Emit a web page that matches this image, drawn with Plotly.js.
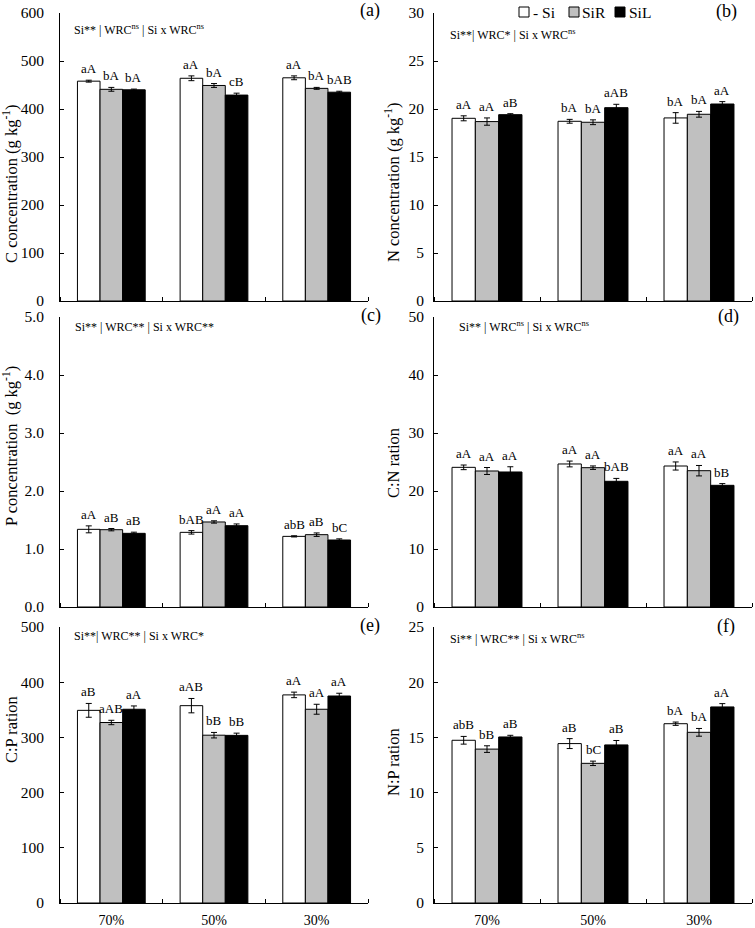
<!DOCTYPE html>
<html>
<head>
<meta charset="utf-8">
<script src="https://cdn.plot.ly/plotly-3.0.1.min.js"></script>
<style>
  html, body { margin: 0; padding: 0; background: #fff; }
  #chart { width: 755px; height: 928px; }
</style>
</head>
<body>
<div id="chart"></div>
<script>
var W = 755, H = 928;

var categories = ['70%', '50%', '30%'];
var seriesNames = ['- Si', 'SiR', 'SiL'];
var seriesColors = ['#ffffff', '#c0c0c0', '#000000'];

// each array: [-Si, SiR, SiL], each inner list over 70%, 50%, 30%
var cConc = [[458, 464, 465], [441, 449, 443], [440, 429, 435]];
var cConcErr = [[2, 5, 4], [4, 4, 2], [1.5, 4, 2]];
var cConcLet = [['aA', 'aA', 'aA'], ['bA', 'bA', 'bA'], ['bA', 'cB', 'bAB']];

var nConc = [[19.03, 18.72, 19.07], [18.69, 18.62, 19.45], [19.41, 20.14, 20.52]];
var nConcErr = [[0.26, 0.2, 0.55], [0.38, 0.25, 0.3], [0.1, 0.35, 0.25]];
var nConcLet = [['aA', 'bA', 'bA'], ['aA', 'bA', 'bA'], ['aB', 'aAB', 'aA']];

var pConc = [[1.339, 1.287, 1.218], [1.333, 1.466, 1.247], [1.27, 1.402, 1.155]];
var pConcErr = [[0.06, 0.03, 0.01], [0.02, 0.02, 0.03], [0.02, 0.03, 0.02]];
var pConcLet = [['aA', 'bAB', 'abB'], ['aB', 'aA', 'aB'], ['aB', 'aA', 'bC']];

var cnRatio = [[24.08, 24.66, 24.31], [23.45, 24.02, 23.5], [23.28, 21.67, 20.98]];
var cnRatioErr = [[0.4, 0.5, 0.7], [0.6, 0.3, 0.9], [0.9, 0.5, 0.3]];
var cnRatioLet = [['aA', 'aA', 'aA'], ['aA', 'aA', 'aA'], ['aA', 'bAB', 'bB']];

var cpRatio = [[349, 357.5, 377], [327, 304, 351], [351, 303.7, 375]];
var cpRatioErr = [[12.5, 13, 5], [4, 5, 9], [6, 4, 5]];
var cpRatioLet = [['aB', 'aAB', 'aA'], ['aAB', 'bB', 'aA'], ['aA', 'bB', 'aA']];

var npRatio = [[14.74, 14.44, 16.24], [13.94, 12.65, 15.46], [15.04, 14.32, 17.76]];
var npRatioErr = [[0.35, 0.45, 0.15], [0.3, 0.2, 0.35], [0.15, 0.4, 0.3]];
var npRatioLet = [['abB', 'aB', 'bA'], ['bB', 'bC', 'bA'], ['aB', 'aB', 'aA']];

var statTexts = [
  'Si** | WRC<sup>ns</sup> | Si x WRC<sup>ns</sup>',
  'Si**| WRC* | Si x WRC<sup>ns</sup>',
  'Si** | WRC** | Si x WRC**',
  'Si** | WRC<sup>ns</sup> | Si x WRC<sup>ns</sup>',
  'Si**| WRC** | Si x WRC*',
  'Si** | WRC** | Si x WRC<sup>ns</sup>'
];

var panels = [
  {tag: '(a)', mean: cConc, err: cConcErr, lab: cConcLet, title: 'C concentration (g kg<sup>-1</sup>)', range: [0, 600], dtick: 100, fmt: ''},
  {tag: '(b)', mean: nConc, err: nConcErr, lab: nConcLet, title: 'N concentration (g kg<sup>-1</sup>)', range: [0, 30], dtick: 5, fmt: ''},
  {tag: '(c)', mean: pConc, err: pConcErr, lab: pConcLet, title: 'P concentration  (g kg<sup>-1</sup>)', range: [0, 5], dtick: 1, fmt: '.1f'},
  {tag: '(d)', mean: cnRatio, err: cnRatioErr, lab: cnRatioLet, title: 'C:N ration', range: [0, 50], dtick: 10, fmt: ''},
  {tag: '(e)', mean: cpRatio, err: cpRatioErr, lab: cpRatioLet, title: 'C:P ration', range: [0, 500], dtick: 100, fmt: ''},
  {tag: '(f)', mean: npRatio, err: npRatioErr, lab: npRatioLet, title: 'N:P ration', range: [0, 25], dtick: 5, fmt: ''}
];

// pixel boxes of the plot areas
var colX = [[60, 368], [434, 752]];
var rowY = [[13, 301], [317, 607], [627, 903]];
var labelGap = [12, 6];
var statPos = [[72, 29], [448, 34], [73, 327], [457, 327], [72, 636], [448, 638]];
var tagPos = [[370, 10], [726, 11], [371, 316], [728, 317], [370, 625], [726, 626]];
var titlePos = [[10, 184], [392, 183], [10, 446], [393, 463], [11, 730], [393, 762]];
// hand-made legend: square left edge and text left edge, in px
var legendBox = [[519, 531], [569, 580], [615, 627]];
var legendMid = 12;

function px(x) { return x / W; }
function py(y) { return 1 - y / H; }

var FONT = '"Liberation Serif", "Times New Roman", serif';
var barW = 0.22;
var traces = [];
var annotations = [];
var shapes = [];
var layout = {
  width: W, height: H,
  margin: {l: 0, r: 0, t: 0, b: 0},
  paper_bgcolor: '#fff', plot_bgcolor: 'rgba(0,0,0,0)',
  font: {family: FONT, size: 16, color: '#000'},
  barmode: 'group', bargap: 0.34, bargroupgap: 0,
  showlegend: false
};

panels.forEach(function(p, k) {
  var n = k + 1;
  var sfx = n === 1 ? '' : String(n);
  var col = k % 2, row = Math.floor(k / 2);

  for (var s = 0; s < 3; s++) {
    traces.push({
      type: 'bar',
      x: [0, 1, 2],
      y: p.mean[s],
      name: seriesNames[s],
      marker: {color: seriesColors[s], line: {color: '#000', width: 1}},
      error_y: {type: 'data', array: p.err[s], visible: true, color: '#000', thickness: 1, width: 3},
      xaxis: 'x' + sfx, yaxis: 'y' + sfx,
      hoverinfo: 'skip'
    });
    for (var i = 0; i < 3; i++) {
      annotations.push({
        xref: 'x' + sfx, yref: 'y' + sfx,
        x: i + (s - 1) * barW, y: p.mean[s][i] + p.err[s][i],
        text: p.lab[s][i], showarrow: false,
        xanchor: 'center', yanchor: 'bottom', yshift: 2,
        font: {family: FONT, size: 13}
      });
    }
  }

  annotations.push({
    xref: 'paper', yref: 'paper', x: px(statPos[k][0]), y: py(statPos[k][1]),
    xanchor: 'left', yanchor: 'middle', text: statTexts[k], showarrow: false,
    font: {family: FONT, size: 12}
  });
  annotations.push({
    xref: 'paper', yref: 'paper', x: px(tagPos[k][0]), y: py(tagPos[k][1]),
    xanchor: 'center', yanchor: 'middle', text: p.tag, showarrow: false,
    font: {family: FONT, size: 18}
  });
  // y axis title, placed by hand (the reference sets them off-centre)
  annotations.push({
    xref: 'paper', yref: 'paper', x: px(titlePos[k][0]), y: py(titlePos[k][1]),
    xanchor: 'center', yanchor: 'middle', textangle: -90, text: p.title, showarrow: false,
    font: {family: FONT, size: 16.5}
  });

  layout['xaxis' + sfx] = {
    domain: [px(colX[col][0]), px(colX[col][1])],
    anchor: 'y' + sfx,
    range: [-0.5, 2.5],
    tickvals: [0, 1, 2],
    ticktext: categories,
    showticklabels: row === 2,
    ticks: '', ticklabelstandoff: 4,
    tickfont: {family: FONT, size: 14},
    minor: {tickvals: [-0.5, 0.5, 1.5, 2.5], ticks: 'inside', ticklen: 4, tickcolor: '#000'},
    showline: true, linecolor: '#000', linewidth: 1,
    showgrid: false, zeroline: false, fixedrange: true
  };
  layout['yaxis' + sfx] = {
    domain: [py(rowY[row][1]), py(rowY[row][0])],
    anchor: 'x' + sfx,
    range: p.range, dtick: p.dtick, tickformat: p.fmt,
    ticks: 'inside', ticklen: 4, tickcolor: '#000',
    ticklabelstandoff: labelGap[col],
    tickfont: {family: FONT, size: 15.5},
    showline: true, linecolor: '#000', linewidth: 1,
    showgrid: false, zeroline: false, fixedrange: true
  };
});

// legend drawn by hand so the squares sit right against their labels
seriesNames.forEach(function(name, s) {
  shapes.push({
    type: 'rect', xref: 'paper', yref: 'paper',
    x0: px(legendBox[s][0]), x1: px(legendBox[s][0] + 10),
    y0: py(legendMid + 5), y1: py(legendMid - 5),
    fillcolor: seriesColors[s], line: {color: '#000', width: 1}
  });
  annotations.push({
    xref: 'paper', yref: 'paper', x: px(legendBox[s][1]), y: py(legendMid),
    xanchor: 'left', yanchor: 'middle', text: name, showarrow: false,
    font: {family: FONT, size: 15.5}
  });
});

layout.annotations = annotations;
layout.shapes = shapes;

Plotly.newPlot('chart', traces, layout, {displayModeBar: false, staticPlot: true});
</script>
</body>
</html>
